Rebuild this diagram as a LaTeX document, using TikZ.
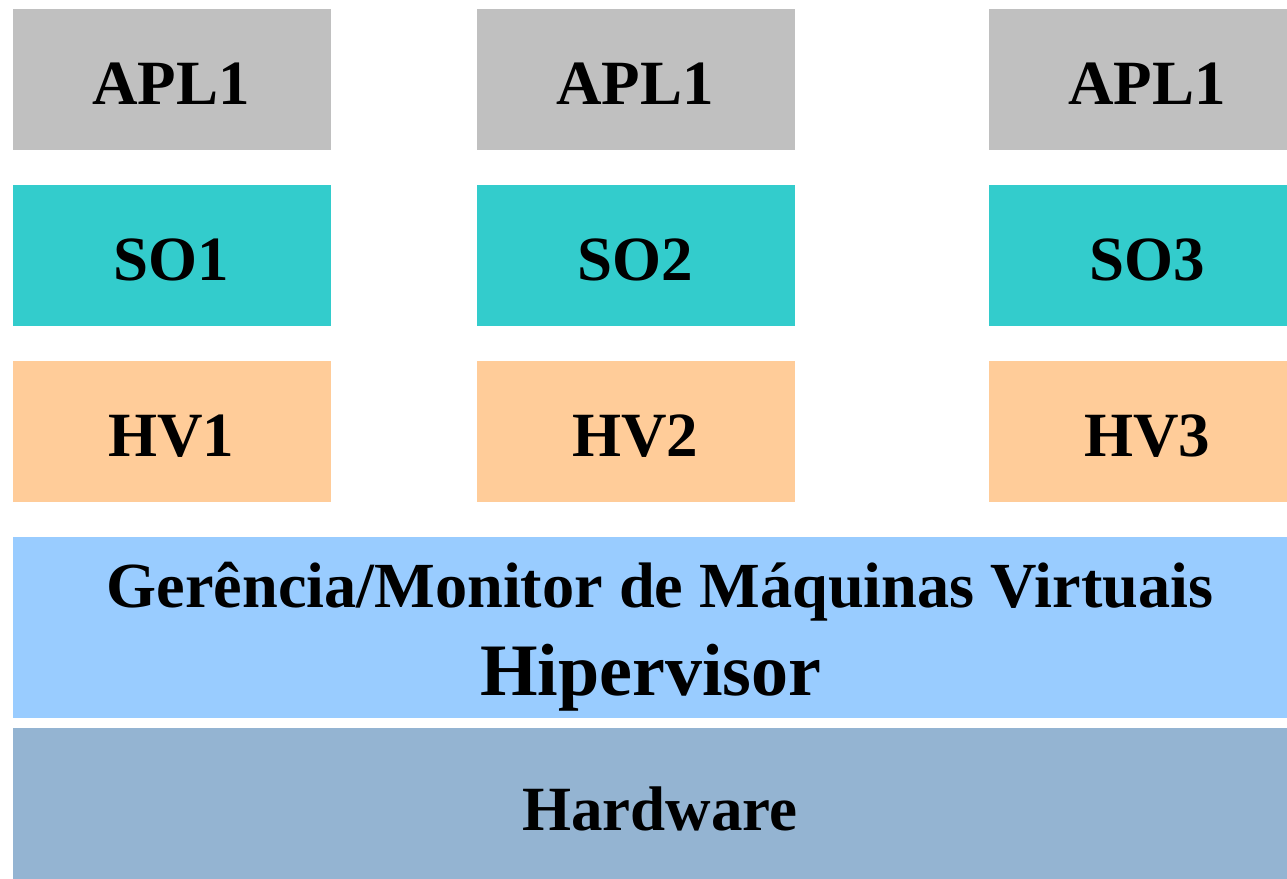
\documentclass[tikz,border=0pt]{standalone}
\usepackage{fontspec}
\setmainfont{Liberation Serif}
\definecolor{aplgray}{HTML}{C0C0C0}
\definecolor{soteal}{HTML}{33CCCC}
\definecolor{hvpeach}{HTML}{FFCC99}
\definecolor{vmmblue}{HTML}{99CCFF}
\definecolor{hwblue}{HTML}{94B4D2}
\begin{document}
\begin{tikzpicture}[x=1pt,y=-1pt,
  lbl/.style={anchor=base, inner sep=0pt, font=\fontsize{63}{70}\selectfont\bfseries},
  widelbl/.style={anchor=base, inner sep=0pt, font=\fontsize{64.3}{70}\selectfont\bfseries},
  biglbl/.style={anchor=base, inner sep=0pt, font=\fontsize{74}{80}\selectfont\bfseries}]
\useasboundingbox (0,0) rectangle (1287,878);
\begin{scope}
\clip (0,0) rectangle (1287,878);
% column boxes
\foreach \c/\xl/\xr in {1/13/331, 2/477/795, 3/989/1306}{
  \fill[aplgray] (\xl,8.5) rectangle (\xr,150);
  \fill[soteal] (\xl,184.5) rectangle (\xr,326);
  \fill[hvpeach] (\xl,360.5) rectangle (\xr,502);
}
\fill[vmmblue] (13,537) rectangle (1307,717.5);
\fill[hwblue] (13,728) rectangle (1307,890);
\end{scope}
% labels
\node[lbl] (apl1) at (171,104) {APL1};
\node[lbl] (apl2) at (635,104) {APL1};
\node[lbl] (apl3) at (1147,104) {APL1};
\node[lbl] (so1) at (171,280) {SO1};
\node[lbl] (so2) at (635,280) {SO2};
\node[lbl] (so3) at (1147,280) {SO3};
\node[lbl] (hv1) at (171,456) {HV1};
\node[lbl] (hv2) at (635,456) {HV2};
\node[lbl] (hv3) at (1147,456) {HV3};
\node[widelbl] (vmm) at (660,607) {Gerência/Monitor de Máquinas Virtuais};
\node[biglbl] (hip) at (651,695) {Hipervisor};
\node[lbl] (hw) at (660,830) {Hardware};
\end{tikzpicture}
\end{document}
